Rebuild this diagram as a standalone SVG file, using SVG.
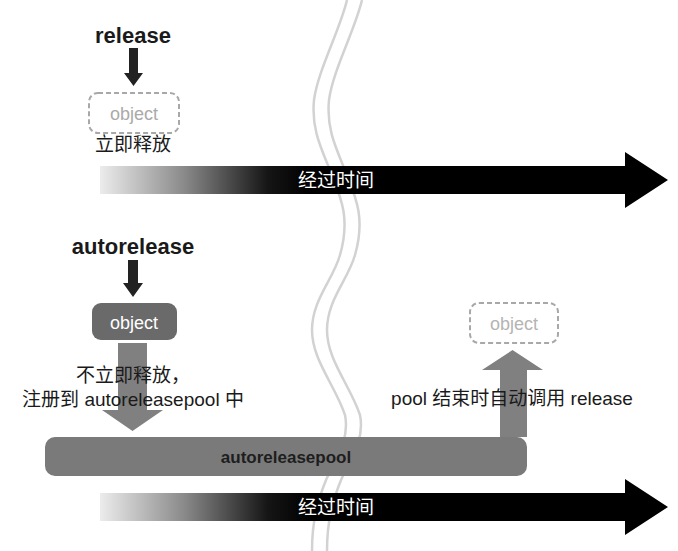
<svg xmlns="http://www.w3.org/2000/svg" width="678" height="551" viewBox="0 0 678 551">
  <style>
    text { font-family: 'Liberation Sans', 'Noto Sans CJK SC', sans-serif; }
    .kw { font-size: 22px; font-weight: bold; fill: #1a1a1a; text-anchor: middle; }
    .lbl { font-size: 19px; fill: #1a1a1a; }
    .obj { font-size: 18px; text-anchor: middle; }
    .dash { fill: #ffffff; stroke: #a8a8a8; stroke-width: 2; stroke-dasharray: 5 3; }
    .wave { fill: none; stroke: #d2d2d2; stroke-width: 2.5; }
    .time { font-size: 19px; fill: #ffffff; text-anchor: middle; }
    .dark { fill: #222222; }
    .big { fill: #808080; }
  </style>
  <defs>
    <linearGradient id="fade" gradientUnits="userSpaceOnUse" x1="100" y1="0" x2="310" y2="0">
      <stop offset="0" stop-color="#ececec"/>
      <stop offset="0.4" stop-color="#8a8a8a"/>
      <stop offset="0.8" stop-color="#151515"/>
      <stop offset="1" stop-color="#000000"/>
    </linearGradient>
  </defs>

  <g id="break-lines">
    <path class="wave" d="M347,0 C340,30 318,70 314,100 C311,130 322,150 332,175 C342,200 350,220 340,255 C333,280 312,300 312,330 C312,360 335,385 345,415 C350,440 335,460 326,480 C318,500 312,520 312,551"/>
    <path class="wave" transform="translate(15,0)" d="M347,0 C340,30 318,70 314,100 C311,130 322,150 332,175 C342,200 350,220 340,255 C333,280 312,300 312,330 C312,360 335,385 345,415 C350,440 335,460 326,480 C318,500 312,520 312,551"/>
  </g>

  <g id="timeline-1">
    <path fill="url(#fade)" d="M100,166 L625,166 L625,152 L668,180 L625,208 L625,194 L100,194 Z"/>
    <text class="time" x="336" y="187">经过时间</text>
  </g>

  <g id="timeline-2">
    <path fill="url(#fade)" d="M100,493 L625,493 L625,479 L668,507 L625,535 L625,521 L100,521 Z"/>
    <text class="time" x="336" y="514">经过时间</text>
  </g>

  <g id="release-label">
    <text class="kw" x="133" y="43">release</text>
  </g>

  <g id="object-released">
    <rect class="dash" x="89" y="93" width="90" height="40" rx="9"/>
    <text class="obj" x="134" y="120" fill="#aaaaaa">object</text>
    <text class="lbl" x="133" y="151" text-anchor="middle">立即释放</text>
  </g>

  <g id="autorelease-label">
    <text class="kw" x="133" y="254">autorelease</text>
  </g>

  <g id="object-pending">
    <rect x="92" y="303" width="85" height="37" rx="9" fill="#6a6a6a"/>
    <text class="obj" x="134" y="329" fill="#ffffff">object</text>
  </g>

  <g id="autoreleasepool">
    <rect x="45" y="437" width="482" height="39" rx="10" fill="#7a7a7a"/>
    <text x="286" y="463" font-size="17" font-weight="bold" fill="#1e1e1e" text-anchor="middle">autoreleasepool</text>
  </g>

  <g id="object-freed">
    <rect class="dash" x="470" y="303" width="88" height="40" rx="9"/>
    <text class="obj" x="514" y="330" fill="#b4b4b4">object</text>
  </g>

  <g id="connectors">
    <path class="dark" d="M129,48 L138,48 L138,73 L143,73 L133.5,86 L124,73 L129,73 Z"/>
    <path class="dark" d="M128,260 L138,260 L138,283 L143,283 L133,297 L123,283 L128,283 Z"/>
    <path class="big" d="M118,343 L147,343 L147,410 L163,410 L132.5,431 L102,410 L118,410 Z"/>
    <path class="big" d="M500,437 L500,370 L482,370 L512.5,350 L543,370 L527,370 L527,437 Z"/>
  </g>

  <g id="labels">
    <text class="lbl" x="133" y="382" text-anchor="middle">不立即释放，</text>
    <text class="lbl" x="133" y="406" text-anchor="middle">注册到 autoreleasepool 中</text>
    <text class="lbl" x="512" y="405" text-anchor="middle">pool 结束时自动调用 release</text>
  </g>
</svg>
